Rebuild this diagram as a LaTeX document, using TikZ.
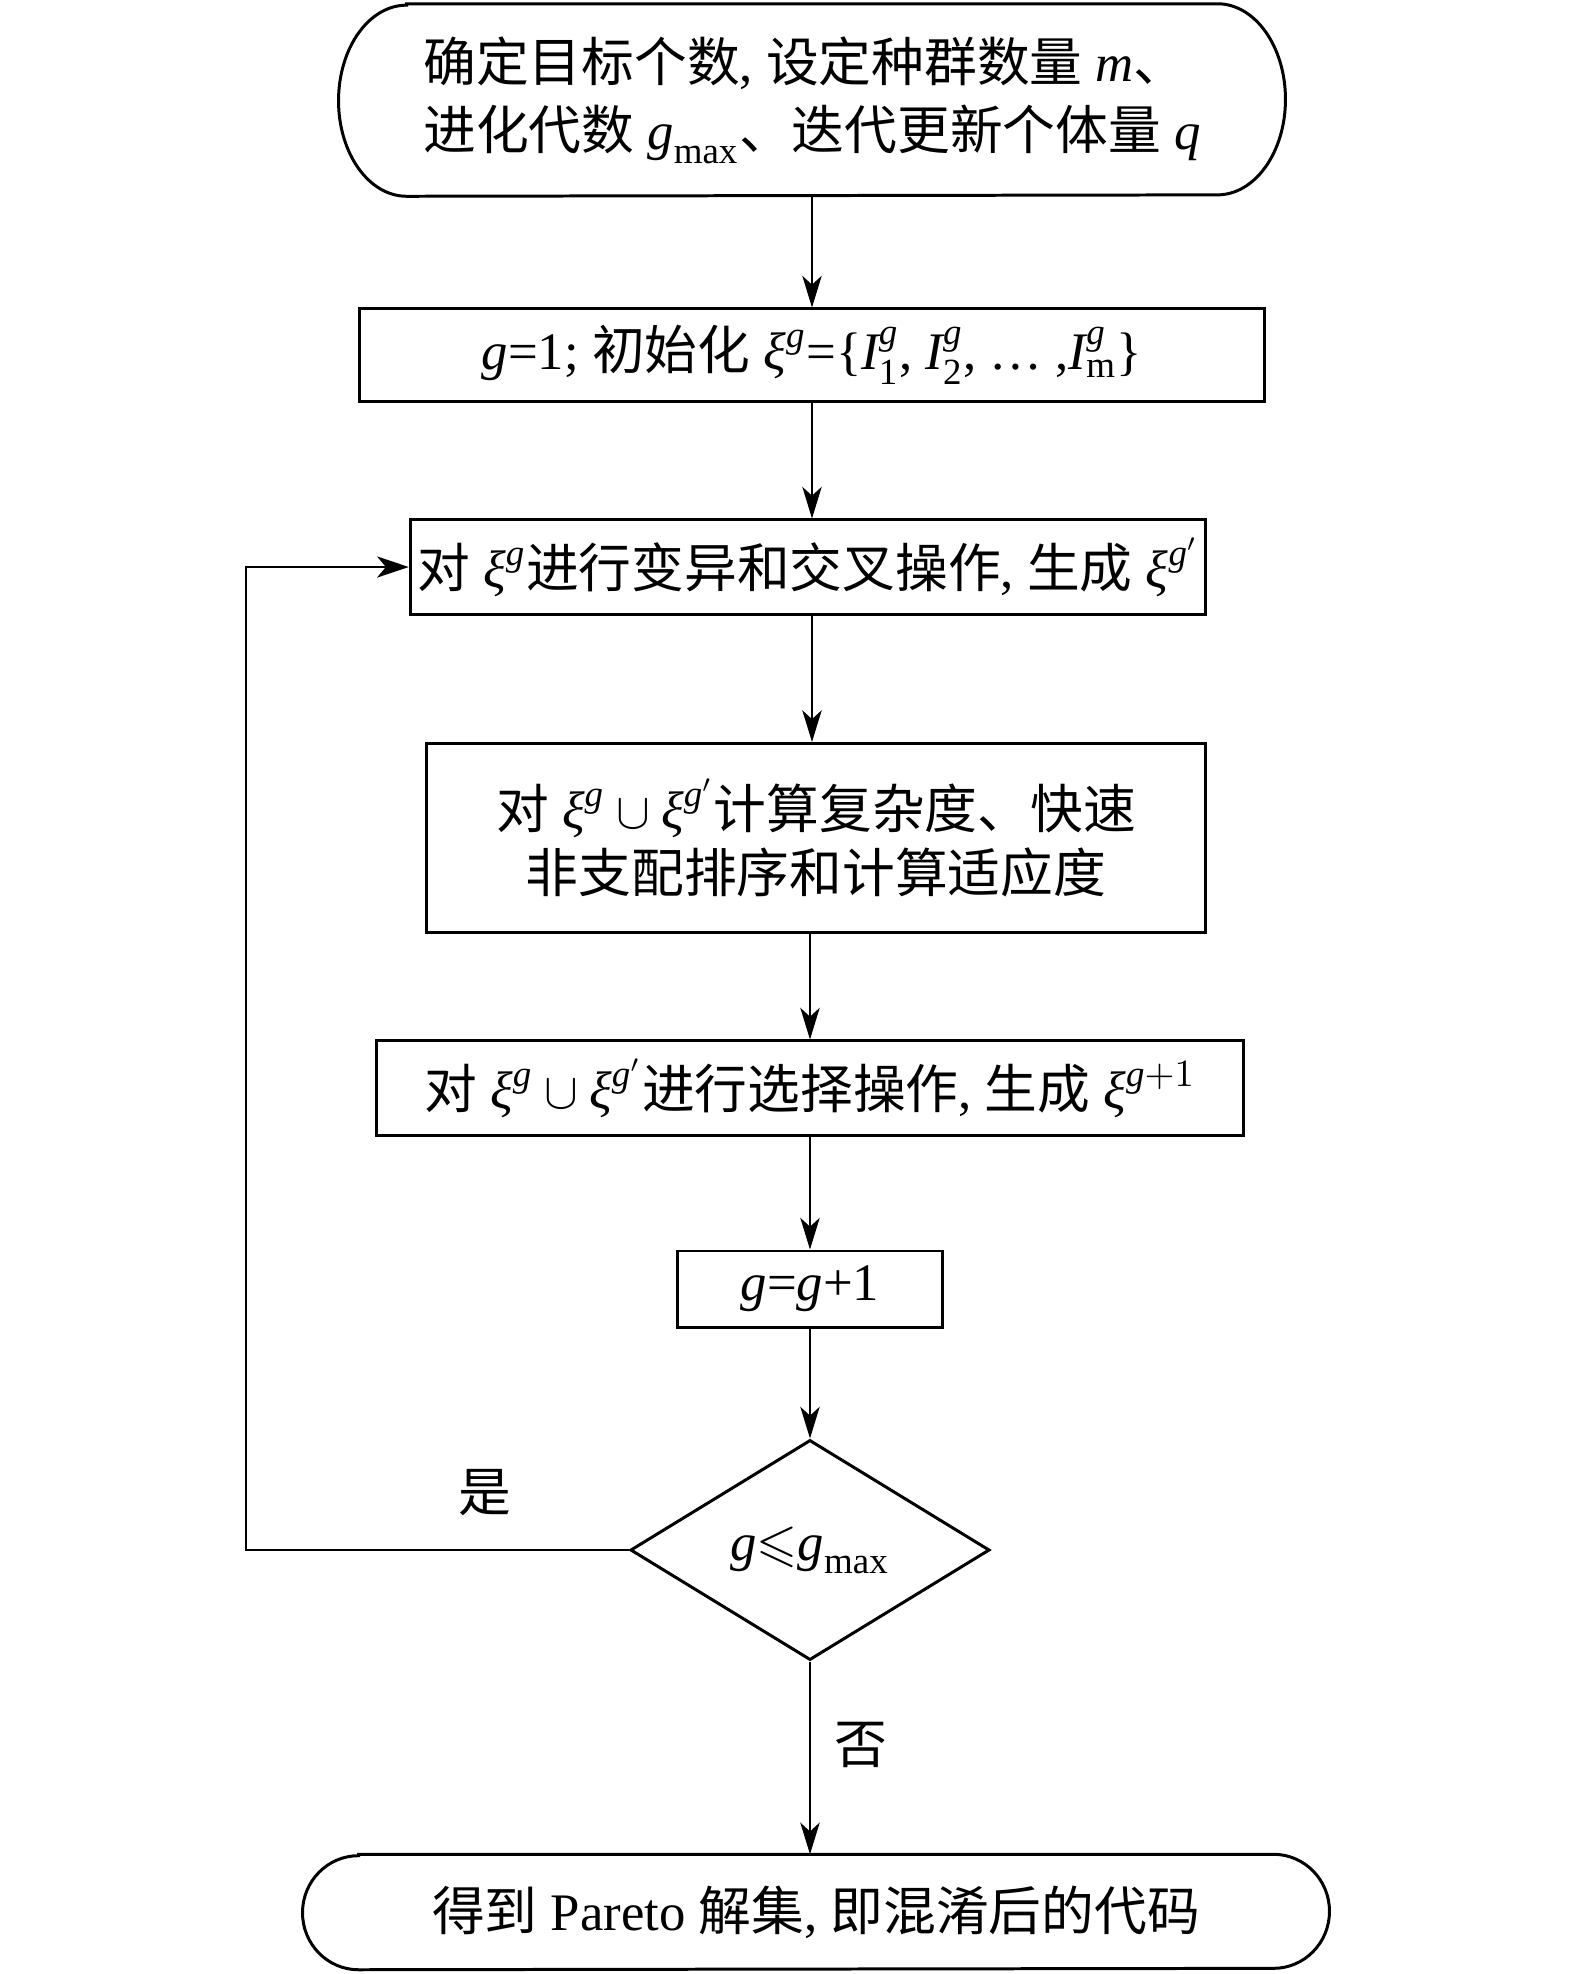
\documentclass[tikz,border=0pt]{standalone}
\usepackage{amsmath,amssymb}
\usepackage{fontspec}
\setmainfont{Liberation Serif}
\newfontfamily\cjk{Noto Sans CJK SC}
\usetikzlibrary{shapes.geometric,arrows.meta}
\newcommand\zh[1]{{\cjk #1}}
\newcommand\vit[1]{\text{\itshape #1}}
\newcommand\vrm[1]{\text{\upshape #1}}
\tikzset{
  txt/.style={font=\fontsize{15}{19.5}\selectfont, inner sep=0pt},
  proc/.style={txt, draw, line width=0.85pt, rectangle, align=center},
  term/.style={txt, rectangle, align=left},
  bord/.style={line width=0.85pt},
  dia/.style={txt, draw, line width=0.85pt, diamond, aspect=1.6, minimum width=3.59cm, minimum height=2.2cm},
  conn/.style={line width=0.6pt, -{Stealth[length=9pt,width=5.5pt,inset=2.5pt]}},
  loopc/.style={line width=0.8pt, -{Stealth[length=9pt,width=6pt,inset=2.5pt]}},
}
\begin{document}
\begin{tikzpicture}[x=0.01cm,y=0.01cm]
\useasboundingbox (0,0) rectangle (1575,-1974);
% start terminal
\node[term, minimum width=9.45cm, minimum height=1.91cm] (st) at (812,-100)
  {\zh{确定目标个数}, \zh{设定种群数量} \vit{m}\zh{、}\\
   \zh{进化代数} $\vit{g}_{\vrm{max}}$\zh{、迭代更新个体量} \vit{q}};
\draw[bord] ([xshift=0.68cm]st.north west) -- ([xshift=-0.68cm]st.north east)
  arc[start angle=90,end angle=-90,x radius=0.68cm,y radius=0.955cm]
  -- ([xshift=0.68cm]st.south west)
  arc[start angle=270,end angle=90,x radius=0.68cm,y radius=0.955cm] -- cycle;
% process boxes
\node[proc, minimum width=9.04cm, minimum height=0.92cm] (init) at (812,-355)
  {\vit{g}=1; \zh{初始化} $\vit{ξ}^{\vit{g}}$=\{$\vit{I}^{\vit{g}}_{\vrm{1}}$, $\vit{I}^{\vit{g}}_{\vrm{2}}$, … ,$\vit{I}^{\vit{g}}_{\vrm{m}}$\}};
\node[proc, minimum width=7.95cm, minimum height=0.94cm] (mut) at (808,-567)
  {\zh{对} $\vit{ξ}^{\vit{g}}$\zh{进行变异和交叉操作}, \zh{生成} $\vit{ξ}^{\vit{g}'}$};
\node[proc, minimum width=7.78cm, minimum height=1.89cm] (eval) at (816,-838)
  {\zh{对} $\vit{ξ}^{\vit{g}}\cup\vit{ξ}^{\vit{g}'}$\zh{计算复杂度、快速}\\[-1.5pt]
   \zh{非支配排序和计算适应度}};
\node[proc, minimum width=8.67cm, minimum height=0.94cm] (sel) at (810,-1088)
  {\zh{对} $\vit{ξ}^{\vit{g}}\cup\vit{ξ}^{\vit{g}'}$\zh{进行选择操作}, \zh{生成} $\vit{ξ}^{\vit{g}+1}$};
\node[proc, minimum width=2.65cm, minimum height=0.76cm] (inc) at (810,-1289)
  {\vit{g}=\vit{g}+1};
\node[dia] (dec) at (810,-1550) {$\vit{g}{\leqslant}\vit{g}_{\vrm{max}}$};
% end terminal
\node[term, align=center, minimum width=10.25cm, minimum height=1.14cm] (en) at (816,-1912)
  {\zh{得到} Pareto \zh{解集}, \zh{即混淆后的代码}};
\draw[bord] ([xshift=0.56cm]en.north west) -- ([xshift=-0.56cm]en.north east)
  arc[start angle=90,end angle=-90,x radius=0.56cm,y radius=0.57cm]
  -- ([xshift=0.56cm]en.south west)
  arc[start angle=270,end angle=90,x radius=0.56cm,y radius=0.57cm] -- cycle;
% labels
\node[txt] (yes) at (485,-1493) {\zh{是}};
\node[txt] (no) at (861,-1745) {\zh{否}};
% connectors
\draw[conn] (st.south -| init) -- (init.north);
\draw[conn] (init.south) -- (init.south |- mut.north);
\draw[conn] (mut.south -| init) -- (init.south |- eval.north);
\draw[conn] (eval.south -| sel) -- (sel.north);
\draw[conn] (sel.south) -- (inc.north);
\draw[conn] (inc.south) -- (dec.north);
\draw[conn] (dec.south) -- (dec.south |- en.north);
\coordinate (lp) at (246,-1550);
\draw[loopc] (dec.west) -- (lp) |- (mut.west);
\end{tikzpicture}
\end{document}
